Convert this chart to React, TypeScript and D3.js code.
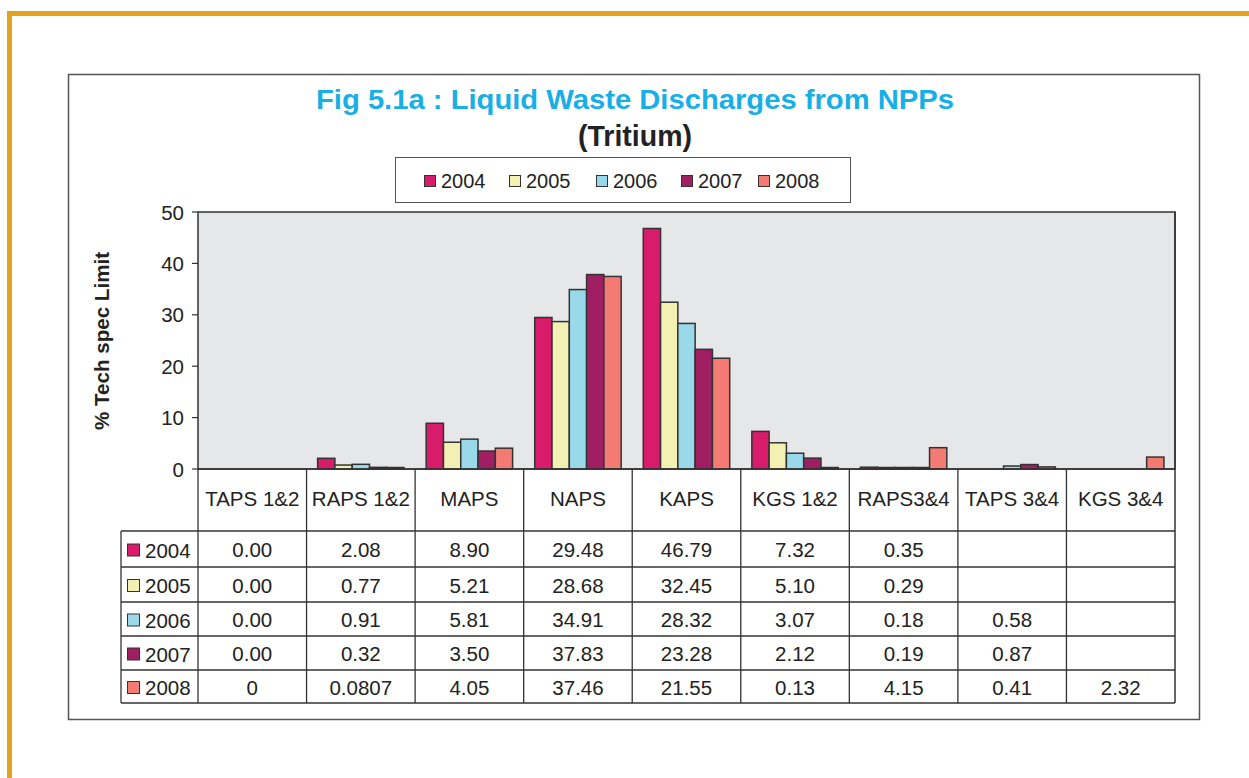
import React from "react";
import * as d3 from "d3";

const categories = ["TAPS 1&2", "RAPS 1&2", "MAPS", "NAPS", "KAPS", "KGS 1&2", "RAPS3&4", "TAPS 3&4", "KGS 3&4"];
const years = ["2004", "2005", "2006", "2007", "2008"];
const s2004 = ["0.00", "2.08", "8.90", "29.48", "46.79", "7.32", "0.35", "", ""];
const s2005 = ["0.00", "0.77", "5.21", "28.68", "32.45", "5.10", "0.29", "", ""];
const s2006 = ["0.00", "0.91", "5.81", "34.91", "28.32", "3.07", "0.18", "0.58", ""];
const s2007 = ["0.00", "0.32", "3.50", "37.83", "23.28", "2.12", "0.19", "0.87", ""];
const s2008 = ["0", "0.0807", "4.05", "37.46", "21.55", "0.13", "4.15", "0.41", "2.32"];
const series = [s2004, s2005, s2006, s2007, s2008];
const colors = ["#d81b6a", "#f3f0b4", "#99d9ea", "#a01f63", "#f47b73"];
const yTicks = [0, 10, 20, 30, 40, 50];

const FONT = "'Liberation Sans', Arial, sans-serif";

export default function App() {
  const W = 1249, H = 778;
  const left = 198, right = 1175, top = 212, zeroY = 469;
  const x = d3.scaleBand<string>().domain(categories).range([left, right]).padding(0);
  const bw = x.bandwidth();
  const xi = d3.scaleBand<string>().domain(years).range([0, bw]).paddingInner(0).paddingOuter(0.64);
  const y = d3.scaleLinear().domain([0, 50]).range([zeroY, top]);

  const rowTops = [531, 567, 602, 636, 670, 703];
  const tableLeft = 121;
  const lineColor = "#333";
  const fs = 20.5;

  return (
    <svg width={W} height={H} style={{ position: "absolute", left: 0, top: 0, background: "#fff" }} fontFamily={FONT}>
      {/* orange frame */}
      <rect x={9.5} y={13.5} width={1400} height={900} fill="none" stroke="#e2a41e" strokeWidth={5} />
      {/* chart box */}
      <rect x={68.5} y={74.5} width={1131} height={645} fill="#fff" stroke="#555" strokeWidth={1.5} />
      {/* title */}
      <text x={635} y={109} textAnchor="middle" fontSize={28} fontWeight="bold" fill="#18aee6" textLength={638} lengthAdjust="spacingAndGlyphs">
        Fig 5.1a : Liquid Waste Discharges from NPPs
      </text>
      <text x={635} y={146} textAnchor="middle" fontSize={29} fontWeight="bold" fill="#222" textLength={114} lengthAdjust="spacingAndGlyphs">
        (Tritium)
      </text>
      {/* legend */}
      <rect x={395.5} y={157.5} width={455} height={45} fill="#fff" stroke="#555" strokeWidth={1} />
      {years.map((yr, i) => {
        const lx = [424, 509, 596, 681, 758][i];
        return (
          <g key={yr}>
            <rect x={lx + 0.5} y={175.5} width={11} height={11} fill={colors[i]} stroke="#333" strokeWidth={1} />
            <text x={lx + 17} y={187.5} fontSize={20} fill="#222">{yr}</text>
          </g>
        );
      })}
      {/* plot area */}
      <rect x={left} y={top} width={right - left} height={zeroY - top} fill="#e6e7e9" stroke="#333" strokeWidth={1.5} />
      {/* y axis ticks */}
      {yTicks.map((t) => (
        <g key={t}>
          <line x1={192} x2={left} y1={y(t)} y2={y(t)} stroke="#333" strokeWidth={1.2} />
          <text x={184} y={y(t) + 7.5} textAnchor="end" fontSize={fs} fill="#222">{t}</text>
        </g>
      ))}
      <text transform="translate(109,341) rotate(-90)" textAnchor="middle" fontSize={20} fontWeight="bold" fill="#222" textLength={178} lengthAdjust="spacingAndGlyphs">
        % Tech spec Limit
      </text>
      {/* bars */}
      {categories.map((c, ci) => (
        <g key={c}>
          {years.map((yr, si) => {
            const s = series[si][ci];
            if (s === "") return null;
            const v = +s;
            if (v <= 0) return null;
            const bx = (x(c) as number) + (xi(yr) as number);
            const h = Math.max(zeroY - y(v), 1.5);
            return (
              <rect key={yr} x={bx} y={zeroY - h} width={xi.bandwidth()} height={h}
                fill={colors[si]} stroke="#333" strokeWidth={1.5} />
            );
          })}
        </g>
      ))}
      {/* zero line */}
      <line x1={left} x2={right} y1={zeroY} y2={zeroY} stroke="#333" strokeWidth={1.5} />
      {/* table */}
      {categories.map((c) => (
        <text key={c} x={(x(c) as number) + bw / 2} y={506} textAnchor="middle" fontSize={fs} fill="#222">{c}</text>
      ))}
      {categories.map((c) => (
        <line key={"v" + c} x1={x(c) as number} x2={x(c) as number} y1={zeroY} y2={rowTops[5]} stroke={lineColor} strokeWidth={1.3} />
      ))}
      <line x1={right} x2={right} y1={top} y2={rowTops[5]} stroke={lineColor} strokeWidth={1.5} />
      <line x1={tableLeft} x2={tableLeft} y1={rowTops[0]} y2={rowTops[5]} stroke={lineColor} strokeWidth={1.3} />
      {rowTops.map((ry, i) => (
        <line key={"h" + i} x1={tableLeft} x2={right} y1={ry} y2={ry} stroke={lineColor} strokeWidth={1.3} />
      ))}
      {years.map((yr, si) => {
        const ry = rowTops[si];
        const rh = rowTops[si + 1] - ry;
        return (
          <g key={"r" + yr}>
            <rect x={127.5} y={ry + rh / 2 - 5} width={12} height={12} fill={colors[si]} stroke="#333" strokeWidth={1} />
            <text x={145} y={ry + rh / 2 + 8.5} fontSize={fs} fill="#222">{yr}</text>
            {categories.map((c, ci) => (
              <text key={c} x={(x(c) as number) + bw / 2} y={ry + rh / 2 + 8} textAnchor="middle" fontSize={fs} fill="#222">
                {series[si][ci]}
              </text>
            ))}
          </g>
        );
      })}
    </svg>
  );
}
